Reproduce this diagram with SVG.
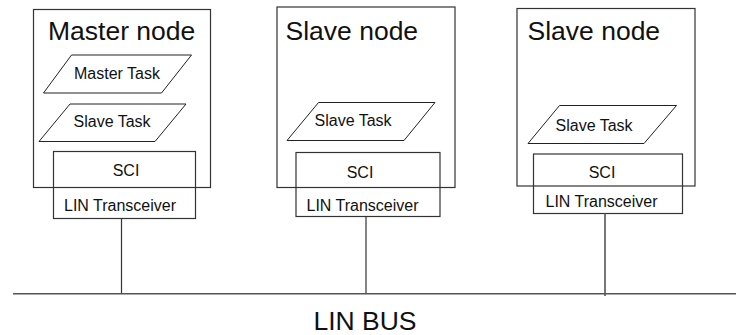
<svg xmlns="http://www.w3.org/2000/svg" width="740" height="335" viewBox="0 0 740 335">
<style>
.box{fill:none;stroke:#333;stroke-width:1.2}
.task{fill:none;stroke:#222;stroke-width:1}
.t{font-family:"Liberation Sans",Arial,sans-serif;font-size:16px;fill:#111}
.title{font-family:"Liberation Sans",Arial,sans-serif;font-size:26.5px;fill:#111}
.c{text-anchor:middle}
.wire{stroke:#333;stroke-width:1.2;fill:none}
.bus{stroke:#555;stroke-width:1.6;fill:none}
</style>
<rect width="740" height="335" fill="#fff"/>
<g id="master-node">
<rect class="box" x="33.5" y="9.5" width="177" height="178"/>
<text class="title" x="48" y="39.5">Master node</text>
<g id="master-task">
<polygon class="task" points="71.5,55 191.5,55 161.5,93 43.5,93"/>
<text class="t" x="74" y="79">Master Task</text>
</g>
<g id="master-slave-task">
<polygon class="task" points="70,104 186,104 155,141.5 39,141.5"/>
<text class="t" x="73.5" y="126.5">Slave Task</text>
</g>
<g id="master-sci">
<rect class="box" x="53.5" y="151.5" width="142" height="67"/>
<text class="t c" x="126" y="175.5">SCI</text>
<text class="t" x="64" y="210.5">LIN Transceiver</text>
</g>
</g>
<g id="slave-node-1">
<rect class="box" x="277" y="7" width="178" height="180.5"/>
<text class="title" x="285.5" y="39.5">Slave node</text>
<g id="slave1-task">
<polygon class="task" points="318.5,102.5 435,102.5 404,140.5 287,140.5"/>
<text class="t" x="314.5" y="125.5">Slave Task</text>
</g>
<g id="slave1-sci">
<rect class="box" x="296" y="152.5" width="144" height="64"/>
<text class="t c" x="360" y="177.5">SCI</text>
<text class="t" x="306.5" y="210.5">LIN Transceiver</text>
</g>
</g>
<g id="slave-node-2">
<rect class="box" x="517" y="8.5" width="178" height="177.5"/>
<text class="title" x="527.5" y="40">Slave node</text>
<g id="slave2-task">
<polygon class="task" points="559.5,105.5 676.5,105.5 644,143.5 528,143.5"/>
<text class="t" x="555.5" y="131">Slave Task</text>
</g>
<g id="slave2-sci">
<rect class="box" x="533.5" y="154" width="149" height="59.5"/>
<text class="t c" x="602" y="177.5">SCI</text>
<text class="t" x="545.5" y="207">LIN Transceiver</text>
</g>
</g>
<g id="connectors">
<line class="wire" x1="121.5" y1="218.5" x2="121.5" y2="294"/>
<line class="wire" x1="366" y1="216.5" x2="366" y2="294"/>
<line class="bus" x1="605" y1="213.5" x2="605" y2="296"/>
<line class="bus" x1="13" y1="293.8" x2="736" y2="293.8"/>
</g>
<text id="lin-bus" class="title c" x="365" y="330">LIN BUS</text>
</svg>
